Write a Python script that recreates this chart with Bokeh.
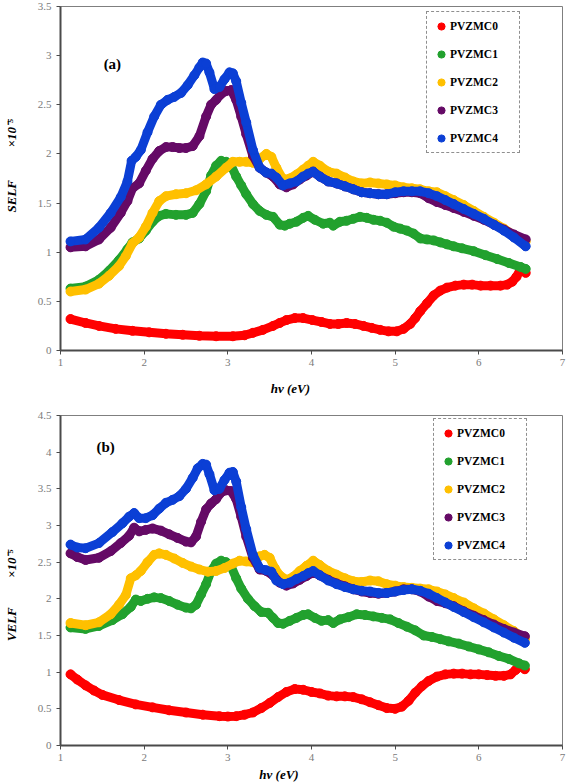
from bokeh.plotting import figure
from bokeh.models import Range1d, FixedTicker, NumeralTickFormatter, Label, Legend, LegendItem
from bokeh.layouts import column
from bokeh.embed import file_html
from bokeh.resources import INLINE

series_names = ["PVZMC0", "PVZMC1", "PVZMC2", "PVZMC3", "PVZMC4"]
series_colors = ["#FF0000", "#22A12E", "#FFC000", "#650A66", "#0B3FD5"]

x_ticks = [1, 2, 3, 4, 5, 6, 7]
self_y_ticks = [0, 0.5, 1, 1.5, 2, 2.5, 3, 3.5]
velf_y_ticks = [0, 0.5, 1, 1.5, 2, 2.5, 3, 3.5, 4, 4.5]

# ---------------- (a) SELF ----------------
self_x0 = [1.12, 1.3, 1.46, 1.66, 1.86, 2.06, 2.26, 2.46, 2.66, 2.86, 3.06, 3.2, 3.3, 3.42, 3.54,
           3.62, 3.7, 3.8, 3.9, 4.01, 4.12, 4.22, 4.32, 4.42, 4.52, 4.62, 4.72, 4.82, 4.92, 5.02,
           5.1, 5.18, 5.24, 5.3, 5.38, 5.46, 5.54, 5.62, 5.72, 5.82, 5.92, 6.02, 6.14, 6.26, 6.34,
           6.4, 6.45, 6.5, 6.56]
self_y0 = [0.32, 0.28, 0.25, 0.22, 0.20, 0.185, 0.17, 0.16, 0.15, 0.145, 0.145, 0.155, 0.18, 0.21, 0.25,
           0.28, 0.31, 0.33, 0.33, 0.31, 0.29, 0.27, 0.27, 0.28, 0.27, 0.25, 0.23, 0.21, 0.195, 0.195,
           0.22, 0.27, 0.33, 0.40, 0.48, 0.56, 0.61, 0.64, 0.66, 0.67, 0.67, 0.66, 0.66, 0.66, 0.67,
           0.70, 0.75, 0.83, 0.79]

self_x1 = [1.12, 1.3, 1.46, 1.58, 1.7, 1.8, 1.86, 1.94, 2.02, 2.1, 2.18, 2.26, 2.38, 2.5, 2.58,
           2.66, 2.74, 2.8, 2.86, 2.92, 2.98, 3.04, 3.1, 3.16, 3.22, 3.3, 3.38, 3.46, 3.54, 3.62,
           3.68, 3.74, 3.82, 3.9, 3.96, 4.04, 4.14, 4.22, 4.26, 4.34, 4.42, 4.5, 4.58, 4.66, 4.74,
           4.82, 4.9, 4.98, 5.06, 5.14, 5.22, 5.3, 5.38, 5.46, 5.54, 5.62, 5.7, 5.8, 5.94, 6.08,
           6.22, 6.36, 6.5, 6.56]
self_y1 = [0.63, 0.65, 0.72, 0.81, 0.92, 1.03, 1.10, 1.14, 1.22, 1.31, 1.37, 1.39, 1.38, 1.38, 1.40,
           1.49, 1.62, 1.78, 1.88, 1.93, 1.92, 1.88, 1.77, 1.68, 1.59, 1.49, 1.42, 1.38, 1.36, 1.28,
           1.27, 1.29, 1.31, 1.35, 1.37, 1.33, 1.29, 1.30, 1.27, 1.31, 1.32, 1.34, 1.36, 1.35, 1.33,
           1.32, 1.30, 1.26, 1.24, 1.22, 1.19, 1.14, 1.13, 1.12, 1.10, 1.08, 1.06, 1.04, 1.01, 0.97,
           0.93, 0.89, 0.85, 0.83]

self_x2 = [1.12, 1.3, 1.46, 1.58, 1.7, 1.78, 1.86, 1.94, 2.02, 2.1, 2.18, 2.26, 2.38, 2.5, 2.62,
           2.74, 2.86, 2.98, 3.06, 3.14, 3.22, 3.3, 3.38, 3.46, 3.52, 3.58, 3.66, 3.74, 3.82, 3.9,
           3.96, 4.02, 4.1, 4.2, 4.3, 4.4, 4.5, 4.6, 4.7, 4.8, 4.9, 5.0, 5.1, 5.2, 5.3,
           5.4, 5.5, 5.6, 5.7, 5.82, 5.94, 6.06, 6.18, 6.3, 6.42, 6.56]
self_y2 = [0.60, 0.62, 0.68, 0.76, 0.86, 0.96, 1.09, 1.15, 1.26, 1.40, 1.52, 1.57, 1.59, 1.60, 1.63,
           1.69, 1.77, 1.86, 1.92, 1.92, 1.92, 1.91, 1.95, 2.0, 1.97, 1.86, 1.74, 1.75, 1.79, 1.84,
           1.88, 1.92, 1.88, 1.82, 1.80, 1.76, 1.72, 1.70, 1.71, 1.70, 1.69, 1.68, 1.66, 1.65, 1.64,
           1.62, 1.61, 1.57, 1.53, 1.48, 1.42, 1.36, 1.30, 1.24, 1.17, 1.11]

self_x3 = [1.12, 1.3, 1.46, 1.6, 1.72, 1.8, 1.86, 1.94, 2.02, 2.1, 2.18, 2.26, 2.34, 2.42, 2.5,
           2.58, 2.66, 2.74, 2.8, 2.86, 2.92, 2.98, 3.04, 3.1, 3.16, 3.22, 3.3, 3.38, 3.46, 3.54,
           3.62, 3.7, 3.78, 3.86, 3.94, 4.02, 4.1, 4.2, 4.3, 4.4, 4.5, 4.6, 4.7, 4.8, 4.9,
           5.0, 5.1, 5.2, 5.3, 5.4, 5.5, 5.6, 5.7, 5.82, 5.94, 6.06, 6.18, 6.3, 6.42, 6.56]
self_y3 = [1.05, 1.06, 1.13, 1.25, 1.40, 1.52, 1.65, 1.70, 1.83, 1.95, 2.03, 2.07, 2.07, 2.06, 2.06,
           2.08, 2.18, 2.38, 2.50, 2.55, 2.61, 2.64, 2.65, 2.55, 2.38, 2.20, 1.98, 1.86, 1.81, 1.77,
           1.69, 1.66, 1.69, 1.74, 1.78, 1.82, 1.77, 1.72, 1.70, 1.67, 1.64, 1.61, 1.60, 1.59, 1.59,
           1.60, 1.61, 1.61, 1.60, 1.55, 1.51, 1.48, 1.45, 1.41, 1.37, 1.33, 1.28, 1.23, 1.18, 1.13]

self_x4 = [1.12, 1.3, 1.46, 1.6, 1.72, 1.8, 1.85, 1.9, 1.96, 2.04, 2.12, 2.2, 2.28, 2.36, 2.44,
           2.52, 2.6, 2.66, 2.7, 2.74, 2.78, 2.84, 2.9, 2.96, 3.02, 3.06, 3.1, 3.16, 3.22, 3.3,
           3.38, 3.46, 3.52, 3.58, 3.66, 3.74, 3.82, 3.9, 3.96, 4.02, 4.1, 4.2, 4.3, 4.4, 4.5,
           4.6, 4.7, 4.8, 4.9, 5.0, 5.1, 5.2, 5.3, 5.4, 5.5, 5.6, 5.7, 5.82, 5.94, 6.06,
           6.18, 6.3, 6.42, 6.56]
self_y4 = [1.11, 1.13, 1.25, 1.40, 1.56, 1.72, 1.93, 1.97, 2.04, 2.22, 2.38, 2.50, 2.55, 2.58, 2.62,
           2.70, 2.80, 2.88, 2.93, 2.92, 2.83, 2.66, 2.68, 2.76, 2.83, 2.82, 2.74, 2.52, 2.32, 2.04,
           1.86, 1.81, 1.80, 1.76, 1.68, 1.70, 1.72, 1.77, 1.80, 1.82, 1.77, 1.72, 1.70, 1.67, 1.64,
           1.61, 1.60, 1.59, 1.59, 1.61, 1.62, 1.62, 1.62, 1.60, 1.57, 1.53, 1.49, 1.44, 1.39, 1.34,
           1.28, 1.22, 1.15, 1.06]

# ---------------- (b) VELF ----------------
velf_x0 = [1.12, 1.2, 1.3, 1.4, 1.5, 1.7, 1.9, 2.1, 2.3, 2.5, 2.7, 2.9, 3.0, 3.1, 3.2,
           3.3, 3.4, 3.5, 3.6, 3.7, 3.8, 3.9, 4.0, 4.1, 4.2, 4.3, 4.4, 4.5, 4.6, 4.7,
           4.8, 4.9, 5.0, 5.08, 5.16, 5.24, 5.32, 5.4, 5.5, 5.6, 5.7, 5.8, 5.9, 6.0, 6.1,
           6.2, 6.3, 6.38, 6.44, 6.5, 6.55]
velf_y0 = [0.97, 0.9, 0.82, 0.75, 0.69, 0.62, 0.56, 0.52, 0.48, 0.45, 0.42, 0.40, 0.395, 0.40, 0.42,
           0.45, 0.51, 0.58, 0.66, 0.73, 0.77, 0.76, 0.73, 0.71, 0.68, 0.67, 0.67, 0.66, 0.63, 0.59,
           0.55, 0.51, 0.50, 0.53, 0.61, 0.72, 0.81, 0.88, 0.94, 0.97, 0.98, 0.98, 0.97, 0.97, 0.96,
           0.95, 0.95, 0.97, 1.03, 1.08, 1.04]

velf_x1 = [1.12, 1.3, 1.46, 1.62, 1.74, 1.84, 1.9, 1.96, 2.04, 2.12, 2.2, 2.3, 2.4, 2.5, 2.56,
           2.62, 2.68, 2.74, 2.8, 2.86, 2.92, 2.98, 3.04, 3.1, 3.16, 3.24, 3.32, 3.4, 3.48, 3.54,
           3.6, 3.66, 3.74, 3.82, 3.9, 3.96, 4.04, 4.12, 4.2, 4.26, 4.34, 4.44, 4.54, 4.64, 4.74,
           4.84, 4.94, 5.04, 5.14, 5.24, 5.34, 5.44, 5.54, 5.64, 5.76, 5.88, 6.0, 6.12, 6.24, 6.36,
           6.48, 6.55]
velf_y1 = [1.61, 1.59, 1.63, 1.71, 1.79, 1.89, 1.99, 1.97, 2.0, 2.02, 2.01, 1.97, 1.92, 1.88, 1.87,
           1.92, 2.06, 2.2, 2.38, 2.48, 2.52, 2.50, 2.44, 2.28, 2.14, 2.0, 1.9, 1.82, 1.81, 1.74,
           1.67, 1.66, 1.70, 1.74, 1.78, 1.79, 1.74, 1.70, 1.71, 1.67, 1.72, 1.75, 1.79, 1.78, 1.76,
           1.74, 1.72, 1.67, 1.62, 1.57, 1.50, 1.48, 1.45, 1.42, 1.39, 1.35, 1.31, 1.27, 1.22, 1.18,
           1.12, 1.09]

velf_x2 = [1.12, 1.3, 1.46, 1.6, 1.7, 1.78, 1.84, 1.9, 1.96, 2.04, 2.12, 2.18, 2.26, 2.36, 2.46,
           2.56, 2.66, 2.76, 2.86, 2.96, 3.06, 3.14, 3.22, 3.3, 3.38, 3.44, 3.5, 3.56, 3.62, 3.7,
           3.78, 3.86, 3.94, 4.02, 4.1, 4.2, 4.3, 4.4, 4.5, 4.6, 4.7, 4.8, 4.9, 5.0, 5.1,
           5.2, 5.3, 5.4, 5.5, 5.6, 5.7, 5.82, 5.94, 6.06, 6.18, 6.3, 6.42, 6.55]
velf_y2 = [1.67, 1.64, 1.68, 1.79, 1.92, 2.05, 2.28, 2.32, 2.38, 2.50, 2.60, 2.62, 2.60, 2.55, 2.49,
           2.44, 2.40, 2.37, 2.38, 2.42, 2.48, 2.52, 2.51, 2.50, 2.58, 2.60, 2.56, 2.42, 2.32, 2.26,
           2.30, 2.38, 2.45, 2.52, 2.46, 2.38, 2.33, 2.28, 2.24, 2.23, 2.25, 2.24, 2.20, 2.18, 2.16,
           2.15, 2.14, 2.13, 2.10, 2.06, 2.01, 1.95, 1.87, 1.80, 1.72, 1.64, 1.56, 1.45]

velf_x3 = [1.12, 1.2, 1.3, 1.46, 1.6, 1.72, 1.82, 1.88, 1.94, 2.02, 2.1, 2.2, 2.3, 2.4, 2.5,
           2.56, 2.62, 2.68, 2.74, 2.8, 2.86, 2.92, 2.98, 3.04, 3.1, 3.16, 3.22, 3.3, 3.38, 3.46,
           3.54, 3.62, 3.7, 3.78, 3.86, 3.94, 4.02, 4.1, 4.2, 4.3, 4.4, 4.5, 4.6, 4.7, 4.8,
           4.9, 5.0, 5.1, 5.2, 5.3, 5.4, 5.5, 5.6, 5.7, 5.82, 5.94, 6.06, 6.18, 6.3, 6.42, 6.55]
velf_y3 = [2.62, 2.57, 2.53, 2.56, 2.65, 2.76, 2.86, 2.97, 2.92, 2.94, 2.96, 2.93, 2.88, 2.83, 2.78,
           2.77, 2.85, 3.05, 3.22, 3.30, 3.36, 3.45, 3.48, 3.47, 3.36, 3.12, 2.85, 2.56, 2.40, 2.38,
           2.32, 2.22, 2.18, 2.21, 2.26, 2.31, 2.36, 2.32, 2.26, 2.21, 2.17, 2.13, 2.10, 2.08, 2.07,
           2.08, 2.10, 2.13, 2.13, 2.10, 2.03, 1.97, 1.94, 1.90, 1.83, 1.77, 1.71, 1.65, 1.59, 1.54, 1.49]

velf_x4 = [1.12, 1.2, 1.3, 1.46, 1.62, 1.74, 1.82, 1.88, 1.94, 2.02, 2.1, 2.18, 2.26, 2.34, 2.42,
           2.5, 2.58, 2.64, 2.7, 2.74, 2.78, 2.84, 2.9, 2.96, 3.02, 3.06, 3.1, 3.16, 3.22, 3.3,
           3.38, 3.46, 3.52, 3.58, 3.66, 3.74, 3.82, 3.9, 3.96, 4.02, 4.1, 4.2, 4.3, 4.4, 4.5,
           4.6, 4.7, 4.8, 4.9, 5.0, 5.1, 5.2, 5.3, 5.4, 5.5, 5.6, 5.7, 5.82, 5.94, 6.06,
           6.18, 6.3, 6.42, 6.55]
velf_y4 = [2.74, 2.70, 2.69, 2.76, 2.91, 3.03, 3.12, 3.17, 3.10, 3.10, 3.14, 3.23, 3.31, 3.35, 3.40,
           3.50, 3.65, 3.78, 3.84, 3.83, 3.70, 3.48, 3.50, 3.62, 3.72, 3.73, 3.60, 3.25, 2.95, 2.60,
           2.42, 2.39, 2.37, 2.25, 2.20, 2.22, 2.27, 2.31, 2.35, 2.38, 2.32, 2.25, 2.20, 2.16, 2.13,
           2.11, 2.10, 2.08, 2.08, 2.10, 2.12, 2.13, 2.11, 2.07, 2.01, 1.95, 1.89, 1.82, 1.75, 1.68,
           1.61, 1.54, 1.47, 1.40]

SERIF = "Liberation Serif"
NB = "\u00a0"
MULT = "\u00d710\u207b\u2075"


def xlab_text(tag):
    # trailing non-breaking spaces move the centred axis title to the left, as in the original
    return "hv (eV)" + NB * (13 if tag == "(a)" else 20)


def make_panel(xs, ys, y_max, y_ticks, ylab, tag, tag_xy, height, b_top, b_bottom,
               xlab_standoff, legend_loc, legend_lw):
    p = figure(width=567, height=height, output_backend="svg", toolbar_location=None,
               x_range=Range1d(1, 7), y_range=Range1d(0, y_max),
               min_border_top=b_top, min_border_bottom=b_bottom, min_border_left=58,
               min_border_right=5, background_fill_color="white", border_fill_color="white")
    p.grid.visible = False
    p.outline_line_color = "#7f7f7f"
    p.outline_line_width = 1
    for ax in (p.xaxis[0], p.yaxis[0]):
        ax.axis_line_color = "#4a4a4a"
        ax.axis_line_width = 2
        ax.major_tick_line_color = "#4a4a4a"
        ax.major_tick_line_width = 1
        ax.major_tick_in = 0
        ax.major_tick_out = 4
        ax.minor_tick_line_color = None
        ax.major_label_text_font = SERIF
        ax.major_label_text_font_size = "11px"
        ax.major_label_text_color = "#7a7a7a"
        ax.axis_label_text_font = SERIF
        ax.axis_label_text_font_style = "bold italic"
        ax.axis_label_text_font_size = "13px"
        ax.axis_label_text_color = "black"
    p.xaxis.major_label_standoff = 4
    p.yaxis.major_label_standoff = 5
    p.xaxis.ticker = FixedTicker(ticks=x_ticks)
    p.yaxis.ticker = FixedTicker(ticks=y_ticks)
    p.yaxis.formatter = NumeralTickFormatter(format="0.[0]")
    p.xaxis.formatter = NumeralTickFormatter(format="0")
    p.yaxis.axis_label = ylab
    p.yaxis.axis_label_standoff = 16
    p.xaxis.axis_label = xlab_text(tag)
    p.xaxis.axis_label_standoff = xlab_standoff

    items = []
    for name, color, x, y in zip(series_names, series_colors, xs, ys):
        p.line(x, y, line_width=9, line_color=color, line_join="round", line_cap="round")
        sc = p.scatter(x, y, size=9, fill_color=color, line_color=color, line_width=1)
        items.append(LegendItem(label=name, renderers=[sc]))

    legend = Legend(items=items, location=legend_loc, orientation="vertical",
                    label_text_font=SERIF, label_text_font_style="bold",
                    label_text_font_size="11.5px", label_text_color="black",
                    glyph_width=18, glyph_height=18, label_height=18, label_width=legend_lw,
                    label_standoff=0, spacing=10, padding=5, margin=0,
                    border_line_color="#222222", border_line_width=1.5,
                    border_line_dash="6 3 2 3",
                    background_fill_color="white", background_fill_alpha=1.0)
    p.add_layout(legend)

    p.add_layout(Label(x=tag_xy[0], y=tag_xy[1], text=tag, text_font=SERIF,
                       text_font_style="bold", text_font_size="15px",
                       text_align="center", text_baseline="middle", text_color="black"))
    return p


p1 = make_panel([self_x0, self_x1, self_x2, self_x3, self_x4],
                [self_y0, self_y1, self_y2, self_y3, self_y4],
                3.5, self_y_ticks, NB * 8 + "SELF" + NB * 10 + MULT, "(a)", (1.62, 2.92),
                height=400, b_top=6, b_bottom=50, xlab_standoff=12,
                legend_loc=(366, 197), legend_lw=64)

p2 = make_panel([velf_x0, velf_x1, velf_x2, velf_x3, velf_x4],
                [velf_y0, velf_y1, velf_y2, velf_y3, velf_y4],
                4.5, velf_y_ticks, "VELF" + NB * 9 + MULT + NB * 9, "(b)", (1.54, 4.07),
                height=384, b_top=15, b_bottom=38, xlab_standoff=3,
                legend_loc=(373, 185), legend_lw=64)

layout = column(p1, p2, spacing=0)
open("out.html", "w").write(file_html(layout, INLINE))
